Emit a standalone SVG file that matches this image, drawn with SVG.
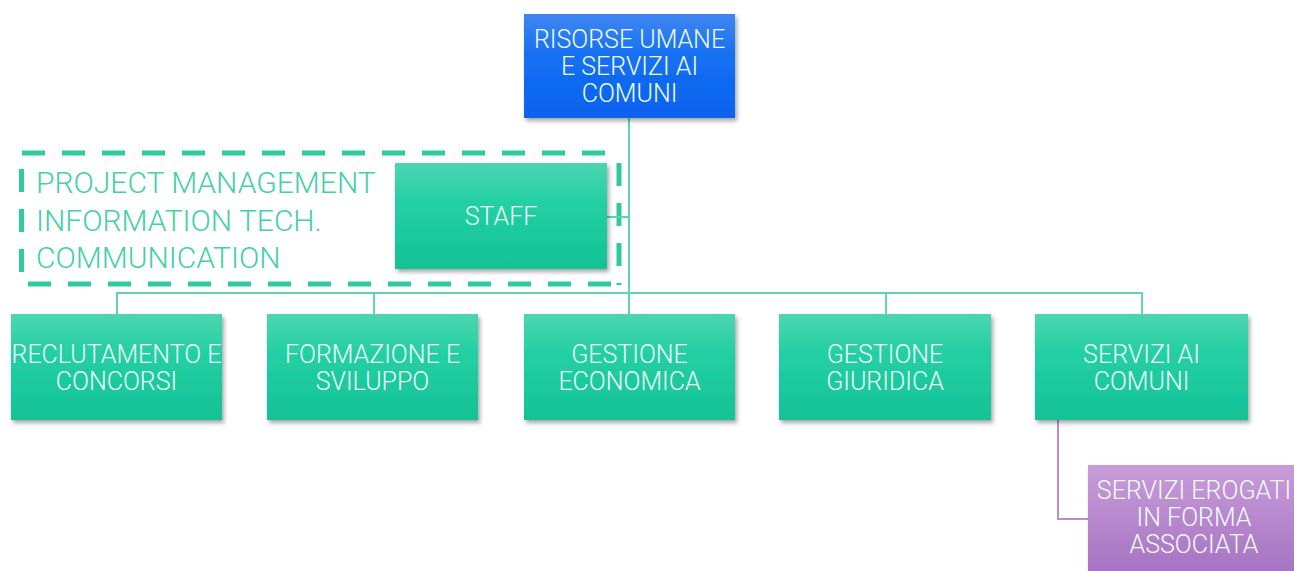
<svg xmlns="http://www.w3.org/2000/svg" width="1294" height="571" viewBox="0 0 1294 571">
  <defs>
    <linearGradient id="gGreen" x1="0" y1="0" x2="0" y2="1">
      <stop offset="0" stop-color="#4dd5b0"/>
      <stop offset="0.35" stop-color="#25d0a4"/>
      <stop offset="1" stop-color="#12c296"/>
    </linearGradient>
    <linearGradient id="gBlue" x1="0" y1="0" x2="0" y2="1">
      <stop offset="0" stop-color="#3f86f0"/>
      <stop offset="0.4" stop-color="#1670f2"/>
      <stop offset="1" stop-color="#0762ee"/>
    </linearGradient>
    <linearGradient id="gPurple" x1="0" y1="0" x2="0" y2="1">
      <stop offset="0" stop-color="#c99cd9"/>
      <stop offset="1" stop-color="#a572c2"/>
    </linearGradient>
    <filter id="shadow" x="-10%" y="-10%" width="125%" height="130%">
      <feDropShadow dx="2" dy="3" stdDeviation="2" flood-color="#000" flood-opacity="0.35"/>
    </filter>
  </defs>
  <style>
    .lbl { font-family: Roboto, "Liberation Sans", sans-serif; font-weight: 300; font-size: 25px; fill: #effdf8; text-anchor: middle; }
    .staffTxt { font-family: Roboto, "Liberation Sans", sans-serif; font-weight: 300; font-size: 30px; fill: #44d0a7; }
    .conn { stroke: #5ed4b4; stroke-width: 2; fill: none; }
    .connP { stroke: #b98dd0; stroke-width: 2; fill: none; }
    .dash { stroke: #2fcb9e; stroke-width: 5; fill: none; stroke-dasharray: 23 17; }
  </style>
  <rect width="1294" height="571" fill="#ffffff"/>

  <g id="staff-area">
    <line class="dash" x1="22" y1="153" x2="622" y2="153"/>
    <line class="dash" x1="619" y1="163" x2="619" y2="285"/>
    <line class="dash" x1="28" y1="284" x2="620" y2="284"/>
    <line class="dash" x1="21.5" y1="169" x2="21.5" y2="280"/>
    <text class="staffTxt" x="36" y="193">PROJECT MANAGEMENT</text>
    <text class="staffTxt" x="36" y="231">INFORMATION TECH.</text>
    <text class="staffTxt" x="36" y="268">COMMUNICATION</text>
  </g>

  <g id="connectors">
    <line class="conn" x1="629" y1="118" x2="629" y2="293"/>
    <line class="conn" x1="607" y1="217" x2="629" y2="217"/>
    <line class="conn" x1="117" y1="293" x2="1142" y2="293"/>
    <line class="conn" x1="117" y1="292" x2="117" y2="315"/>
    <line class="conn" x1="374" y1="292" x2="374" y2="315"/>
    <line class="conn" x1="629" y1="292" x2="629" y2="315"/>
    <line class="conn" x1="886" y1="292" x2="886" y2="315"/>
    <line class="conn" x1="1142" y1="292" x2="1142" y2="315"/>
    <polyline class="connP" points="1058,420 1058,519 1088,519"/>
  </g>

  <g id="root">
    <rect x="524" y="14" width="211" height="104" fill="url(#gBlue)" filter="url(#shadow)"/>
    <text class="lbl" x="629.5" y="48">RISORSE UMANE</text>
    <text class="lbl" x="629.5" y="75">E SERVIZI AI</text>
    <text class="lbl" x="629.5" y="102">COMUNI</text>
  </g>

  <g id="staff">
    <rect x="395" y="163" width="212" height="106" fill="url(#gGreen)" filter="url(#shadow)"/>
    <text class="lbl" x="501" y="225">STAFF</text>
  </g>

  <g id="reclutamento">
    <rect x="11" y="314" width="211" height="106" fill="url(#gGreen)" filter="url(#shadow)"/>
    <text class="lbl" x="116.5" y="363">RECLUTAMENTO E</text>
    <text class="lbl" x="116.5" y="390">CONCORSI</text>
  </g>

  <g id="formazione">
    <rect x="267" y="314" width="211" height="106" fill="url(#gGreen)" filter="url(#shadow)"/>
    <text class="lbl" x="372.5" y="363">FORMAZIONE E</text>
    <text class="lbl" x="372.5" y="390">SVILUPPO</text>
  </g>

  <g id="economica">
    <rect x="524" y="314" width="211" height="106" fill="url(#gGreen)" filter="url(#shadow)"/>
    <text class="lbl" x="629.5" y="363">GESTIONE</text>
    <text class="lbl" x="629.5" y="390">ECONOMICA</text>
  </g>

  <g id="giuridica">
    <rect x="779" y="314" width="212" height="106" fill="url(#gGreen)" filter="url(#shadow)"/>
    <text class="lbl" x="885" y="363">GESTIONE</text>
    <text class="lbl" x="885" y="390">GIURIDICA</text>
  </g>

  <g id="servizi">
    <rect x="1035" y="314" width="213" height="106" fill="url(#gGreen)" filter="url(#shadow)"/>
    <text class="lbl" x="1141.5" y="363">SERVIZI AI</text>
    <text class="lbl" x="1141.5" y="390">COMUNI</text>
  </g>

  <g id="associata">
    <rect x="1088" y="465" width="212" height="110" fill="url(#gPurple)" filter="url(#shadow)"/>
    <text class="lbl" x="1194" y="499">SERVIZI EROGATI</text>
    <text class="lbl" x="1194" y="526">IN FORMA</text>
    <text class="lbl" x="1194" y="553">ASSOCIATA</text>
  </g>
</svg>
